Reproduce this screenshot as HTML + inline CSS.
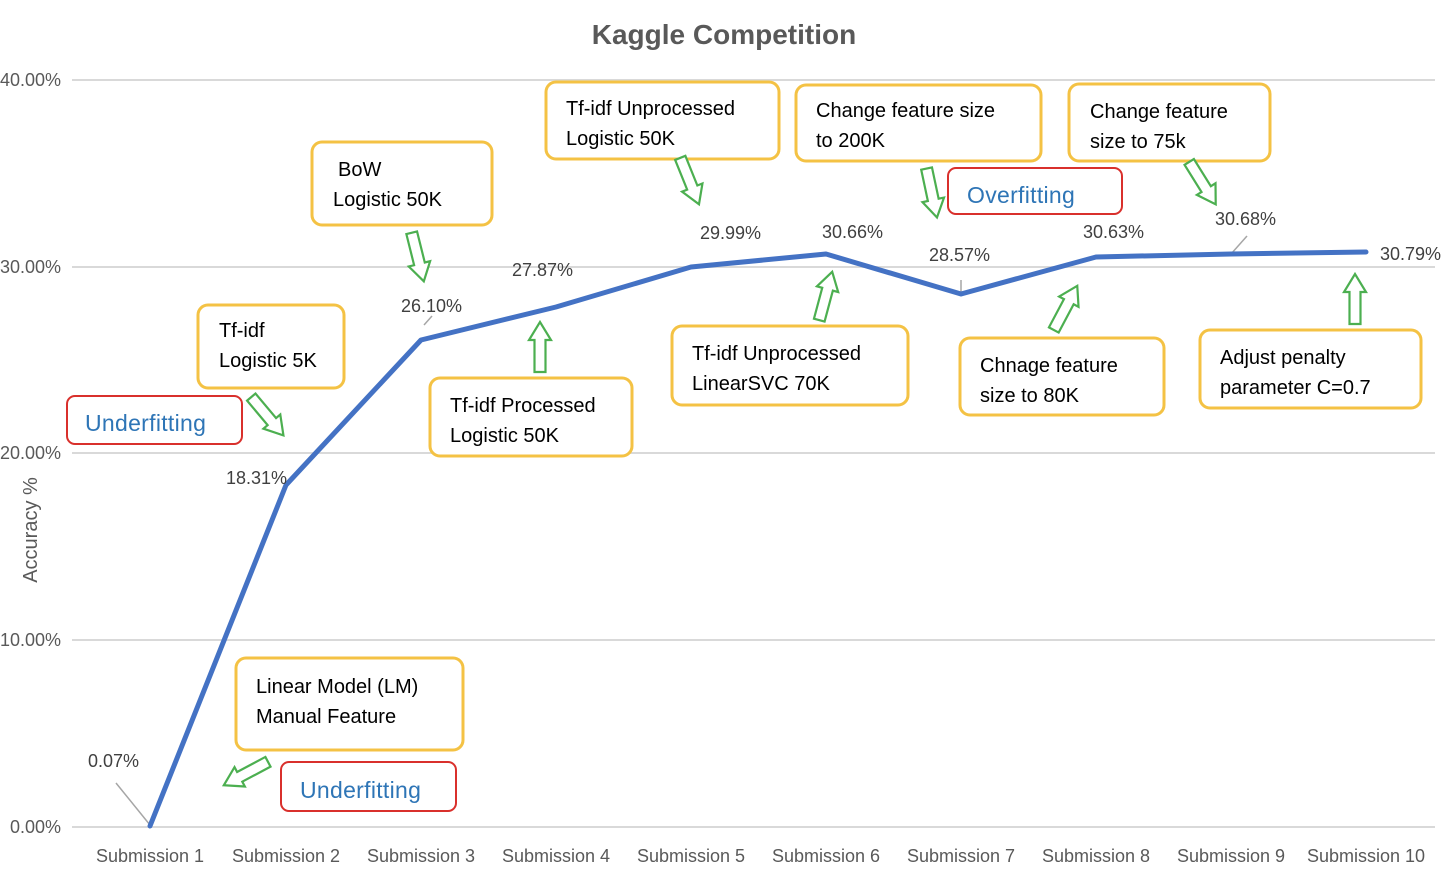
<!DOCTYPE html>
<html><head><meta charset="utf-8"><style>
html,body{margin:0;padding:0;background:#fff;}
svg{display:block;font-family:"Liberation Sans",sans-serif;}
</style></head><body>
<svg width="1448" height="872" viewBox="0 0 1448 872" xmlns="http://www.w3.org/2000/svg">
<defs>
<path id="arr" d="M-5.5,-26 L5.5,-26 L5.5,6 L11,6 L0,24 L-11,6 L-5.5,6 Z" fill="#fff" stroke="#4CAF50" stroke-width="2.2" stroke-linejoin="miter"/>
</defs>
<text x="724" y="44" text-anchor="middle" font-size="28" font-weight="bold" fill="#595959">Kaggle Competition</text>
<g stroke="#d9d9d9" stroke-width="2">
<line x1="72" y1="80" x2="1435" y2="80"/>
<line x1="72" y1="267" x2="1435" y2="267"/>
<line x1="72" y1="453" x2="1435" y2="453"/>
<line x1="72" y1="640" x2="1435" y2="640"/>
<line x1="72" y1="827" x2="1435" y2="827"/>
</g>
<g font-size="18" fill="#595959">
<text x="0" y="86">40.00%</text>
<text x="0" y="273">30.00%</text>
<text x="0" y="459">20.00%</text>
<text x="0" y="646">10.00%</text>
<text x="10" y="833">0.00%</text>
</g>
<text transform="translate(37,530) rotate(-90)" text-anchor="middle" font-size="20" fill="#595959">Accuracy %</text>
<g font-size="18" fill="#595959" text-anchor="middle">
<text x="150" y="862">Submission 1</text><text x="286" y="862">Submission 2</text><text x="421" y="862">Submission 3</text><text x="556" y="862">Submission 4</text><text x="691" y="862">Submission 5</text><text x="826" y="862">Submission 6</text><text x="961" y="862">Submission 7</text><text x="1096" y="862">Submission 8</text><text x="1231" y="862">Submission 9</text><text x="1366" y="862">Submission 10</text>
</g>
<g stroke="#a6a6a6" stroke-width="1.5">
<line x1="116" y1="783" x2="150" y2="825"/>
<line x1="424" y1="325" x2="432" y2="316"/>
<line x1="961" y1="280" x2="961" y2="293"/>
<line x1="1231" y1="254" x2="1247" y2="236"/>
</g>
<polyline points="150,826 286,485 421,340 556,307 691,267 826,254 961,294 1096,257 1231,254 1366,252" fill="none" stroke="#4472C4" stroke-width="5" stroke-linejoin="round" stroke-linecap="round"/>
<g font-size="18" fill="#404040">
<text x="88" y="767">0.07%</text>
<text x="226" y="484">18.31%</text>
<text x="401" y="312">26.10%</text>
<text x="512" y="276">27.87%</text>
<text x="700" y="239">29.99%</text>
<text x="822" y="238">30.66%</text>
<text x="929" y="261">28.57%</text>
<text x="1083" y="238">30.63%</text>
<text x="1215" y="225">30.68%</text>
<text x="1380" y="260">30.79%</text>
</g>
<g fill="#fff" stroke="#F4C244" stroke-width="3">
<rect x="198" y="305" width="146" height="83" rx="10"/>
<rect x="312" y="142" width="180" height="83" rx="10"/>
<rect x="546" y="82" width="233" height="77" rx="10"/>
<rect x="796" y="85" width="245" height="76" rx="10"/>
<rect x="1069" y="84" width="201" height="77" rx="10"/>
<rect x="430" y="378" width="202" height="78" rx="10"/>
<rect x="672" y="326" width="236" height="79" rx="10"/>
<rect x="960" y="338" width="204" height="77" rx="10"/>
<rect x="1200" y="330" width="221" height="78" rx="10"/>
<rect x="236" y="658" width="227" height="92" rx="10"/>
</g>
<g fill="#fff" stroke="#D9302C" stroke-width="2">
<rect x="67" y="396" width="175" height="48" rx="8"/>
<rect x="948" y="168" width="174" height="46" rx="8"/>
<rect x="281" y="762" width="175" height="49" rx="8"/>
</g>
<g font-size="20" fill="#000">
<text x="219" y="337">Tf-idf</text><text x="219" y="367">Logistic 5K</text>
<text x="338" y="176">BoW</text><text x="333" y="206">Logistic 50K</text>
<text x="566" y="115">Tf-idf Unprocessed</text><text x="566" y="145">Logistic 50K</text>
<text x="816" y="117">Change feature size</text><text x="816" y="147">to 200K</text>
<text x="1090" y="118">Change feature</text><text x="1090" y="148">size to 75k</text>
<text x="450" y="412">Tf-idf Processed</text><text x="450" y="442">Logistic 50K</text>
<text x="692" y="360">Tf-idf Unprocessed</text><text x="692" y="390">LinearSVC 70K</text>
<text x="980" y="372">Chnage feature</text><text x="980" y="402">size to 80K</text>
<text x="1220" y="364">Adjust penalty</text><text x="1220" y="394">parameter C=0.7</text>
<text x="256" y="693">Linear Model (LM)</text><text x="256" y="723">Manual Feature</text>
</g>
<g font-size="23" fill="#2E75B6" letter-spacing="0.3">
<text x="85" y="431">Underfitting</text>
<text x="967" y="203">Overfitting</text>
<text x="300" y="798">Underfitting</text>
</g>
<use href="#arr" transform="translate(268,417) rotate(-40)"/>
<use href="#arr" transform="translate(418,258) rotate(-14)"/>
<use href="#arr" transform="translate(540,346) rotate(180)"/>
<use href="#arr" transform="translate(690,182) rotate(-22)"/>
<use href="#arr" transform="translate(826,295) rotate(195)"/>
<use href="#arr" transform="translate(932,194) rotate(-12)"/>
<use href="#arr" transform="translate(1066,307) rotate(208)"/>
<use href="#arr" transform="translate(1203,184) rotate(-32)"/>
<use href="#arr" transform="translate(1355,298) rotate(180)"/>
<use href="#arr" transform="translate(245,774) rotate(62)"/>
</svg>
</body></html>
